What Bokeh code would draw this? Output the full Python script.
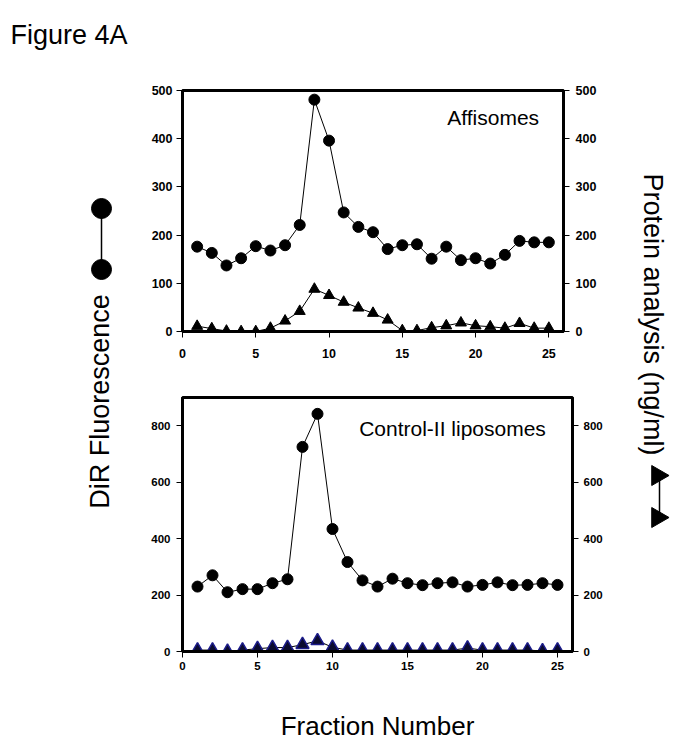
import math
from bokeh.plotting import figure
from bokeh.models import Range1d, LinearAxis, Label, FixedTicker
from bokeh.layouts import row, column
from bokeh.embed import file_html
from bokeh.resources import INLINE

# ---------------- data ----------------
fractions = list(range(1, 26))
affi_dir = [176, 163, 137, 152, 177, 168, 179, 221, 481, 396, 247, 217, 206,
            171, 179, 181, 151, 176, 148, 152, 141, 159, 188, 185, 185]
affi_protein = [11, 6, 1, 0, 0, 7, 22, 42, 88, 75, 61, 49, 38,
                24, 2, 2, 8, 12, 18, 12, 10, 7, 17, 7, 7]
ctrl_dir = [230, 270, 210, 221, 221, 242, 256, 725, 842, 434, 317, 252, 230,
            258, 242, 235, 242, 245, 230, 236, 245, 235, 236, 242, 236]
ctrl_protein = [5, 5, 0, 5, 10, 14, 14, 24, 38, 15, 5, 5, 5,
                5, 5, 5, 5, 5, 12, 5, 5, 5, 5, 2, 5]
x_ticks = [0, 5, 10, 15, 20, 25]
top_y_ticks = [0, 100, 200, 300, 400, 500]
bottom_y_ticks = [0, 200, 400, 600, 800]

FONT = "Liberation Sans"
TOTAL_H = 747


def style_axis(ax, size, standoff):
    ax.axis_line_width = 3
    ax.axis_line_color = "black"
    ax.major_tick_out = 6
    ax.major_tick_in = 0
    ax.minor_tick_out = 0
    ax.minor_tick_in = 0
    ax.major_tick_line_width = 1
    ax.major_tick_line_color = "black"
    ax.major_label_text_font = FONT
    ax.major_label_text_font_style = "bold"
    ax.major_label_text_font_size = size
    ax.major_label_text_color = "black"
    ax.major_label_standoff = standoff


def make_panel(fw, fh, bl, br, bt, bb, ymax, yticks, size, xstand, ylstand, yrstand):
    p = figure(frame_width=fw, frame_height=fh, x_range=Range1d(0, 26), y_range=Range1d(0, ymax),
               min_border_left=bl, min_border_right=br, min_border_top=bt, min_border_bottom=bb,
               x_axis_type=None, y_axis_type=None, toolbar_location=None, output_backend="svg")
    p.extra_y_ranges = {"right": Range1d(0, ymax)}
    p.outline_line_color = "black"
    p.outline_line_width = 3
    p.background_fill_color = "white"
    p.border_fill_color = "white"
    xa = LinearAxis(ticker=FixedTicker(ticks=x_ticks))
    style_axis(xa, size, xstand)
    p.add_layout(xa, "below")
    ya = LinearAxis(ticker=FixedTicker(ticks=yticks))
    style_axis(ya, size, ylstand)
    p.add_layout(ya, "left")
    yr = LinearAxis(ticker=FixedTicker(ticks=yticks), y_range_name="right")
    style_axis(yr, size, yrstand)
    p.add_layout(yr, "right")
    return p, xa


# ---------------- top panel ----------------
top, _ = make_panel(381, 241, 42, 49, 90, 39, 500, top_y_ticks, "12.5px", 11, 4, 6)
top.line(fractions, affi_dir, line_color="black", line_width=1)
top.scatter(fractions, affi_dir, marker="circle", size=11, fill_color="black", line_color="black")
top.line(fractions, affi_protein, line_color="black", line_width=1, y_range_name="right")
top.scatter(fractions, affi_protein, marker="triangle", size=11, fill_color="black",
            line_color="black", y_range_name="right")
top.add_layout(Label(x=21.2, y=444, text="Affisomes", text_font=FONT, text_font_size="21px",
                     text_align="center", text_baseline="middle", text_color="black"))

# ---------------- bottom panel ----------------
bottom, bxa = make_panel(390, 254, 42, 40, 27, 96, 900, bottom_y_ticks, "11.5px", 4, 6, 5)
bottom.line(fractions, ctrl_dir, line_color="black", line_width=1)
bottom.scatter(fractions, ctrl_dir, marker="circle", size=11, fill_color="black", line_color="black")
bottom.line(fractions, ctrl_protein, line_color="black", line_width=1, y_range_name="right")
bottom.scatter(fractions, ctrl_protein, marker="triangle", size=13, fill_color="#0b0b2e",
               line_color="#1c1c8a", line_width=1.5, y_range_name="right")
bottom.add_layout(Label(x=18.0, y=790, text="Control-II liposomes", text_font=FONT,
                        text_font_size="21px", text_align="center", text_baseline="middle",
                        text_color="black"))
bxa.axis_label = "Fraction Number"
bxa.axis_label_text_font = FONT
bxa.axis_label_text_font_style = "normal"
bxa.axis_label_text_font_size = "26px"
bxa.axis_label_text_color = "black"
bxa.axis_label_standoff = 38

# ---------------- left decoration column ----------------
left = figure(width=140, height=TOTAL_H, x_range=Range1d(0, 140), y_range=Range1d(TOTAL_H, 0),
              min_border=0, min_border_left=0, min_border_right=0, min_border_top=0,
              min_border_bottom=0, x_axis_type=None, y_axis_type=None,
              toolbar_location=None, output_backend="svg")
left.outline_line_color = None
left.add_layout(Label(x=10, y=34, text="Figure 4A", text_font=FONT, text_font_size="27px",
                      text_align="left", text_baseline="middle", text_color="black"))
left.add_layout(Label(x=99, y=401, text="DiR Fluorescence", text_font=FONT,
                      text_font_size="27px", angle=math.pi / 2, text_align="center",
                      text_baseline="middle", text_color="black"))
left.line([101, 101], [208, 269], line_color="black", line_width=1.5)
left.scatter([101, 101], [208, 269], marker="circle", size=20, fill_color="black",
             line_color="black")

# ---------------- right decoration column ----------------
right = figure(width=77, height=TOTAL_H, x_range=Range1d(612, 689), y_range=Range1d(TOTAL_H, 0),
               min_border=0, min_border_left=0, min_border_right=0, min_border_top=0,
               min_border_bottom=0, x_axis_type=None, y_axis_type=None,
               toolbar_location=None, output_backend="svg")
right.outline_line_color = None
right.add_layout(Label(x=652, y=314, text="Protein analysis (ng/ml)", text_font=FONT,
                       text_font_size="27px", angle=-math.pi / 2, text_align="center",
                       text_baseline="middle", text_color="black"))
right.line([659, 659], [475, 517], line_color="black", line_width=1.5)
right.scatter([657, 657], [475, 517], marker="triangle", size=20, angle=-math.pi / 2,
              fill_color="black", line_color="black")

layout = row(left, column(top, bottom), right)

open("out.html", "w").write(file_html(layout, INLINE))
